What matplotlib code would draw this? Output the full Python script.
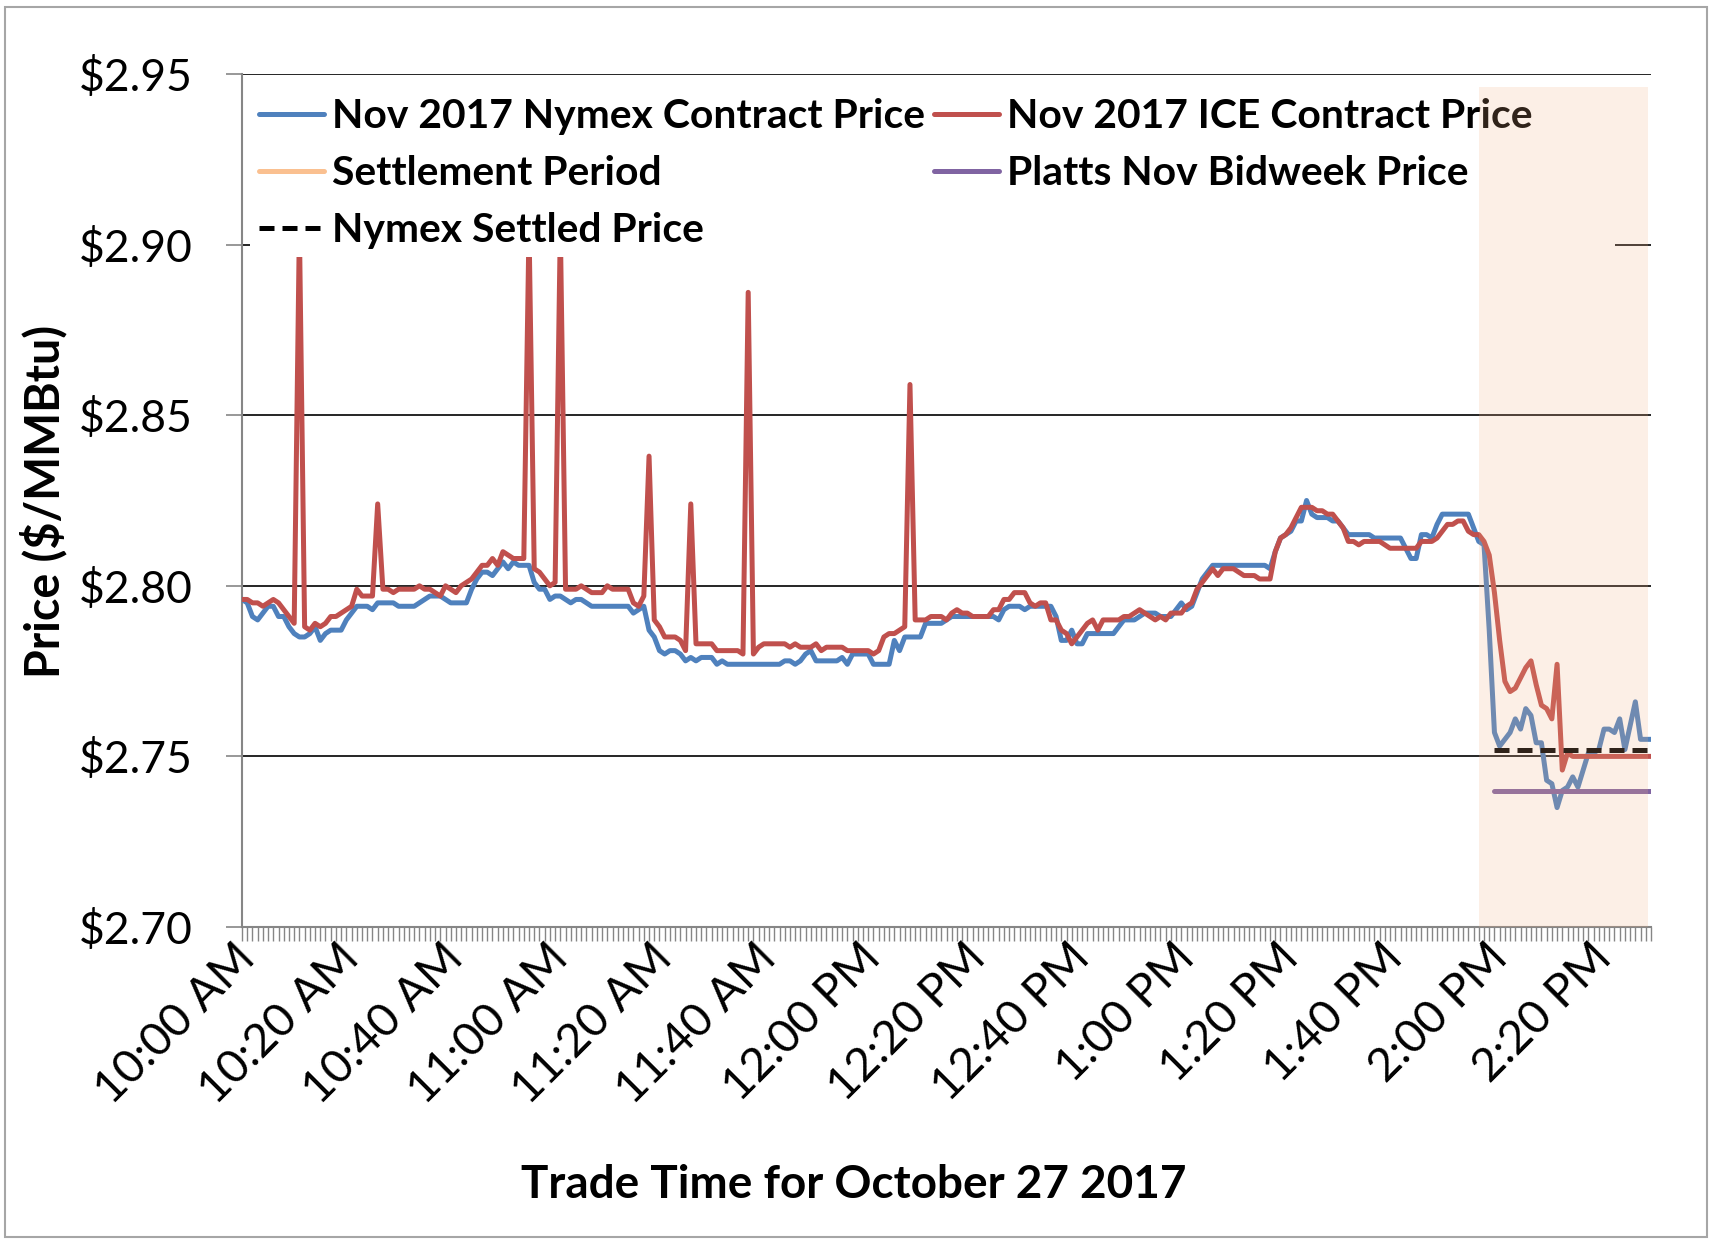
import matplotlib
matplotlib.use('Agg')
import matplotlib.pyplot as plt
import matplotlib.transforms as mtransforms
from matplotlib.patches import Rectangle
from matplotlib.lines import Line2D
from matplotlib.ticker import FixedLocator, MultipleLocator

plt.rcParams['font.family'] = ['Lato', 'DejaVu Sans']

# one point per minute, minute 0 = 10:00 AM, minute 270 = 2:30 PM
minutes = list(range(271))
tick_minutes = list(range(0, 261, 20))
tick_labels = ['10:00 AM', '10:20 AM', '10:40 AM', '11:00 AM', '11:20 AM', '11:40 AM',
               '12:00 PM', '12:20 PM', '12:40 PM', '1:00 PM', '1:20 PM', '1:40 PM',
               '2:00 PM', '2:20 PM']

nymex = [
    2.796, 2.795, 2.791, 2.790, 2.792, 2.794, 2.794, 2.791, 2.791, 2.788,
    2.786, 2.785, 2.785, 2.786, 2.788, 2.784, 2.786, 2.787, 2.787, 2.787,
    2.790, 2.792, 2.794, 2.794, 2.794, 2.793, 2.795, 2.795, 2.795, 2.795,
    2.794, 2.794, 2.794, 2.794, 2.795, 2.796, 2.797, 2.797, 2.797, 2.796,
    2.795, 2.795, 2.795, 2.795, 2.799, 2.802, 2.804, 2.804, 2.803, 2.805,
    2.807, 2.805, 2.807, 2.806, 2.806, 2.806, 2.801, 2.799, 2.799, 2.796,
    2.797, 2.797, 2.796, 2.795, 2.796, 2.796, 2.795, 2.794, 2.794, 2.794,
    2.794, 2.794, 2.794, 2.794, 2.794, 2.792, 2.793, 2.794, 2.787, 2.785,
    2.781, 2.780, 2.781, 2.781, 2.780, 2.778, 2.779, 2.778, 2.779, 2.779,
    2.779, 2.777, 2.778, 2.777, 2.777, 2.777, 2.777, 2.777, 2.777, 2.777,
    2.777, 2.777, 2.777, 2.777, 2.778, 2.778, 2.777, 2.778, 2.780, 2.781,
    2.778, 2.778, 2.778, 2.778, 2.778, 2.779, 2.777, 2.780, 2.780, 2.780,
    2.780, 2.777, 2.777, 2.777, 2.777, 2.784, 2.781, 2.785, 2.785, 2.785,
    2.785, 2.789, 2.789, 2.789, 2.789, 2.790, 2.791, 2.791, 2.791, 2.791,
    2.791, 2.791, 2.791, 2.791, 2.791, 2.790, 2.793, 2.794, 2.794, 2.794,
    2.793, 2.794, 2.794, 2.794, 2.794, 2.794, 2.791, 2.784, 2.784, 2.787,
    2.783, 2.783, 2.786, 2.786, 2.786, 2.786, 2.786, 2.786, 2.788, 2.790,
    2.790, 2.790, 2.791, 2.792, 2.792, 2.792, 2.791, 2.791, 2.791, 2.793,
    2.795, 2.793, 2.794, 2.798, 2.802, 2.804, 2.806, 2.806, 2.806, 2.806,
    2.806, 2.806, 2.806, 2.806, 2.806, 2.806, 2.806, 2.805, 2.810, 2.814,
    2.815, 2.816, 2.819, 2.819, 2.825, 2.821, 2.820, 2.820, 2.820, 2.819,
    2.819, 2.817, 2.815, 2.815, 2.815, 2.815, 2.815, 2.814, 2.814, 2.814,
    2.814, 2.814, 2.814, 2.811, 2.808, 2.808, 2.815, 2.815, 2.814, 2.818,
    2.821, 2.821, 2.821, 2.821, 2.821, 2.821, 2.817, 2.813, 2.812, 2.787,
    2.757, 2.753, 2.755, 2.757, 2.761, 2.758, 2.764, 2.762, 2.754, 2.754,
    2.743, 2.742, 2.735, 2.740, 2.741, 2.744, 2.741, 2.746, 2.751, 2.751,
    2.752, 2.758, 2.758, 2.757, 2.761, 2.752, 2.759, 2.766, 2.755, 2.755,
    2.755,
]

# the three tallest spikes run up under the legend box, their tops are hidden
ice = [
    2.796, 2.796, 2.795, 2.795, 2.794, 2.795, 2.796, 2.795, 2.793, 2.791,
    2.789, 2.905, 2.788, 2.787, 2.789, 2.788, 2.789, 2.791, 2.791, 2.792,
    2.793, 2.794, 2.799, 2.797, 2.797, 2.797, 2.824, 2.799, 2.799, 2.798,
    2.799, 2.799, 2.799, 2.799, 2.800, 2.799, 2.799, 2.798, 2.797, 2.800,
    2.799, 2.798, 2.800, 2.801, 2.802, 2.804, 2.806, 2.806, 2.808, 2.806,
    2.810, 2.809, 2.808, 2.808, 2.808, 2.905, 2.805, 2.804, 2.802, 2.800,
    2.801, 2.905, 2.799, 2.799, 2.799, 2.800, 2.799, 2.798, 2.798, 2.798,
    2.800, 2.799, 2.799, 2.799, 2.799, 2.795, 2.794, 2.797, 2.838, 2.790,
    2.788, 2.785, 2.785, 2.785, 2.784, 2.781, 2.824, 2.783, 2.783, 2.783,
    2.783, 2.781, 2.781, 2.781, 2.781, 2.781, 2.780, 2.886, 2.780, 2.782,
    2.783, 2.783, 2.783, 2.783, 2.783, 2.782, 2.783, 2.782, 2.782, 2.782,
    2.783, 2.781, 2.782, 2.782, 2.782, 2.782, 2.781, 2.781, 2.781, 2.781,
    2.781, 2.780, 2.781, 2.785, 2.786, 2.786, 2.787, 2.788, 2.859, 2.790,
    2.790, 2.790, 2.791, 2.791, 2.791, 2.790, 2.792, 2.793, 2.792, 2.792,
    2.791, 2.791, 2.791, 2.791, 2.793, 2.793, 2.796, 2.796, 2.798, 2.798,
    2.798, 2.795, 2.794, 2.795, 2.795, 2.790, 2.790, 2.787, 2.786, 2.783,
    2.785, 2.787, 2.789, 2.790, 2.787, 2.790, 2.790, 2.790, 2.790, 2.791,
    2.791, 2.792, 2.793, 2.792, 2.791, 2.790, 2.791, 2.790, 2.792, 2.792,
    2.792, 2.794, 2.795, 2.799, 2.801, 2.803, 2.805, 2.803, 2.805, 2.805,
    2.805, 2.804, 2.803, 2.803, 2.803, 2.802, 2.802, 2.802, 2.810, 2.814,
    2.815, 2.817, 2.820, 2.823, 2.823, 2.823, 2.822, 2.822, 2.821, 2.821,
    2.819, 2.817, 2.813, 2.813, 2.812, 2.813, 2.813, 2.813, 2.813, 2.812,
    2.811, 2.811, 2.811, 2.811, 2.811, 2.811, 2.813, 2.813, 2.813, 2.814,
    2.816, 2.818, 2.818, 2.819, 2.819, 2.816, 2.815, 2.815, 2.813, 2.809,
    2.798, 2.784, 2.772, 2.769, 2.770, 2.773, 2.776, 2.778, 2.771, 2.765,
    2.764, 2.761, 2.777, 2.746, 2.751, 2.750, 2.750, 2.750, 2.750, 2.750,
    2.750, 2.750, 2.750, 2.750, 2.750, 2.750, 2.750, 2.750, 2.750, 2.750,
    2.750,
]

# 2:00 PM to 2:30 PM reference prices
ref_minutes = minutes[240:]
nymex_settled = [2.752] * len(ref_minutes)
platts_bidweek = [2.740] * len(ref_minutes)

# settlement period band (minutes after 10:00 AM)
settle_start, settle_end = 237, 269.5

BLUE = '#4F81BD'
RED = '#C0504D'
PURPLE = '#8064A2'
PEACH = '#FAC090'
GRAY = '#868686'

fig = plt.figure(figsize=(17.12, 12.42), dpi=100)
fig.patches.append(Rectangle((0.003, 0.004), 0.994, 0.990, transform=fig.transFigure,
                             fill=False, edgecolor='#A6A6A6', linewidth=1.5))
ax = fig.add_axes([242 / 1712, 1 - 927 / 1242, 1409 / 1712, 853 / 1242])

ax.plot(minutes, nymex, color=BLUE, lw=3.6, zorder=3, solid_joinstyle='round')
ax.plot(minutes, ice, color=RED, lw=3.6, zorder=3, solid_joinstyle='round')
ax.plot(ref_minutes, nymex_settled, color='black', lw=3.6, ls=(0, (3, 1.6)), zorder=3)
ax.plot(ref_minutes, platts_bidweek, color=PURPLE, lw=3.6, zorder=3, solid_capstyle='round')

ax.set_xlim(0, 270)
ax.set_ylim(2.70, 2.95)

yticks = [2.70, 2.75, 2.80, 2.85, 2.90, 2.95]
ax.set_yticks(yticks)
ax.set_yticklabels(['$%.2f' % v for v in yticks], fontsize=32)
ax.xaxis.set_major_locator(FixedLocator(tick_minutes))
ax.xaxis.set_minor_locator(MultipleLocator(1))
ax.set_xticklabels(tick_labels, fontsize=33.5, rotation=45, ha='right', va='top',
                   rotation_mode='anchor')
ax.tick_params(axis='y', length=11.5, width=1.2, color=GRAY, pad=24, direction='out')
ax.tick_params(axis='x', which='both', length=10, width=1.0, color=GRAY, pad=14)

# nudge the slanted time labels up and left
shift = mtransforms.ScaledTranslation(-9 / 100, 24 / 100, fig.dpi_scale_trans)
for lab in ax.get_xticklabels():
    lab.set_transform(lab.get_transform() + shift)

ax.grid(axis='y', color='black', lw=1.2, zorder=0)
ax.set_axisbelow(True)
for side in ['top', 'right']:
    ax.spines[side].set_visible(False)
for side in ['left', 'bottom']:
    ax.spines[side].set_color(GRAY)
    ax.spines[side].set_linewidth(1.5)

# white legend box over the top of the plot area
ax.add_patch(Rectangle((0.0057, 0.786), 0.9687, 0.211, transform=ax.transAxes,
                       facecolor='white', edgecolor='none', zorder=4))

handles = [
    Line2D([], [], color=BLUE, lw=3.6, solid_capstyle='round'),
    Line2D([], [], color=PEACH, lw=3.6, solid_capstyle='round'),
    Line2D([], [], color='black', lw=3.6, ls=(0, (3, 1.6))),
    Line2D([], [], color=RED, lw=3.6, solid_capstyle='round'),
    Line2D([], [], color=PURPLE, lw=3.6, solid_capstyle='round'),
]
labels = ['Nov 2017 Nymex Contract Price', 'Settlement Period', 'Nymex Settled Price',
          'Nov 2017 ICE Contract Price', 'Platts Nov Bidweek Price']
leg = ax.legend(handles, labels, ncol=2, loc='upper left', bbox_to_anchor=(0.012, 0.972),
                frameon=False, borderpad=0, borderaxespad=0, handlelength=1.6,
                handletextpad=0.19, columnspacing=0.21, labelspacing=0.49,
                prop={'family': ['Lato', 'DejaVu Sans'], 'weight': 'bold', 'size': 29.4})
leg.set_zorder(5)

# settlement period shading sits on top of everything
ax.axvspan(settle_start, settle_end, ymin=0, ymax=(2.9462 - 2.70) / 0.25,
           color='#F4B183', alpha=0.2, lw=0, zorder=6)

fig.text(44 / 1712, 1 - 501 / 1242, 'Price ($/MMBtu)', rotation=90, ha='center',
         va='center', fontsize=33.5, fontweight='bold')
fig.text(854 / 1712, 1 - 1185 / 1242, 'Trade Time for October 27 2017', ha='center',
         va='center', fontsize=33, fontweight='bold')

fig.savefig('out.png', dpi=100)
